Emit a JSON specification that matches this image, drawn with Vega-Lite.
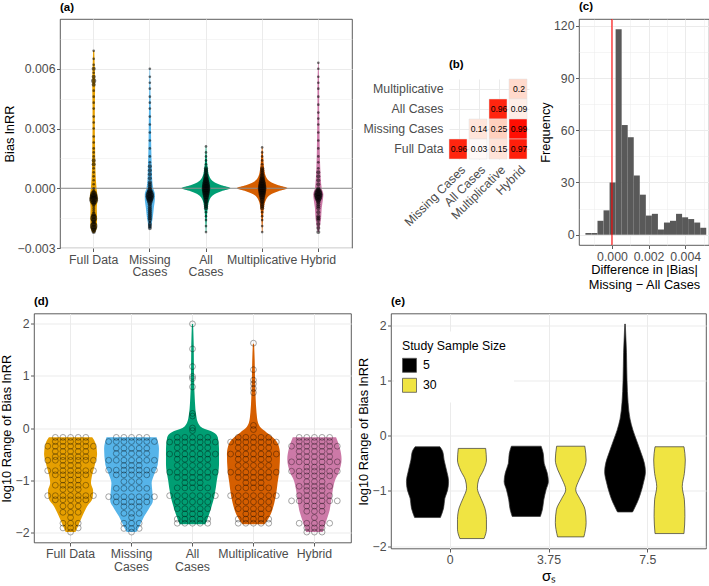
{
"$schema": "https://vega.github.io/schema/vega-lite/v6.json",
"background": "white",
"padding": 0,
"datasets": {
"a_vio": [
{"c":"FD","v":-0.00225,"w":0.02},{"c":"FD","v":-0.002,"w":0.11},{"c":"FD","v":-0.0015,"w":0.12},{"c":"FD","v":-0.001,"w":0.11},{"c":"FD","v":-0.0005,"w":0.14},{"c":"FD","v":0,"w":0.1},{"c":"FD","v":0.001,"w":0.06},{"c":"FD","v":0.002,"w":0.05},{"c":"FD","v":0.003,"w":0.04},{"c":"FD","v":0.004,"w":0.04},{"c":"FD","v":0.005,"w":0.05},{"c":"FD","v":0.0055,"w":0.05},{"c":"FD","v":0.006,"w":0.04},{"c":"FD","v":0.0069,"w":0.02},
{"c":"MC","v":-0.00203,"w":0.03},{"c":"MC","v":-0.0015,"w":0.1},{"c":"MC","v":-0.001,"w":0.14},{"c":"MC","v":-0.0005,"w":0.18},{"c":"MC","v":-0.0003,"w":0.18},{"c":"MC","v":0,"w":0.12},{"c":"MC","v":0.0005,"w":0.08},{"c":"MC","v":0.001,"w":0.07},{"c":"MC","v":0.002,"w":0.05},{"c":"MC","v":0.003,"w":0.04},{"c":"MC","v":0.004,"w":0.03},{"c":"MC","v":0.005,"w":0.02},{"c":"MC","v":0.006,"w":0.01},
{"c":"AC","v":-0.0022,"w":0.01},{"c":"AC","v":-0.0015,"w":0.03},{"c":"AC","v":-0.001,"w":0.06},{"c":"AC","v":-0.0006,"w":0.12},{"c":"AC","v":-0.0003,"w":0.3},{"c":"AC","v":-0.00015,"w":0.55},{"c":"AC","v":0,"w":0.87},{"c":"AC","v":0.00015,"w":0.55},{"c":"AC","v":0.0003,"w":0.3},{"c":"AC","v":0.0006,"w":0.12},{"c":"AC","v":0.001,"w":0.06},{"c":"AC","v":0.0015,"w":0.03},{"c":"AC","v":0.0021,"w":0.01},
{"c":"MU","v":-0.0022,"w":0.01},{"c":"MU","v":-0.0015,"w":0.03},{"c":"MU","v":-0.001,"w":0.06},{"c":"MU","v":-0.0006,"w":0.13},{"c":"MU","v":-0.0003,"w":0.32},{"c":"MU","v":-0.00015,"w":0.58},{"c":"MU","v":0,"w":0.9},{"c":"MU","v":0.00015,"w":0.58},{"c":"MU","v":0.0003,"w":0.32},{"c":"MU","v":0.0006,"w":0.13},{"c":"MU","v":0.001,"w":0.07},{"c":"MU","v":0.0015,"w":0.04},{"c":"MU","v":0.00205,"w":0.01},
{"c":"HY","v":-0.0022,"w":0.02},{"c":"HY","v":-0.0015,"w":0.1},{"c":"HY","v":-0.001,"w":0.12},{"c":"HY","v":-0.0005,"w":0.17},{"c":"HY","v":-0.0003,"w":0.18},{"c":"HY","v":0,"w":0.12},{"c":"HY","v":0.001,"w":0.07},{"c":"HY","v":0.002,"w":0.05},{"c":"HY","v":0.003,"w":0.04},{"c":"HY","v":0.004,"w":0.03},{"c":"HY","v":0.005,"w":0.03},{"c":"HY","v":0.0063,"w":0.01}
],
"a_pts": [
{"c":"FD","v":-0.0022,"n":2},{"c":"FD","v":-0.0021,"n":3},{"c":"FD","v":-0.002,"n":4},{"c":"FD","v":-0.0019,"n":6},{"c":"FD","v":-0.0018,"n":3},{"c":"FD","v":-0.0017,"n":2},{"c":"FD","v":-0.0016,"n":3},{"c":"FD","v":-0.0015,"n":5},{"c":"FD","v":-0.0014,"n":3},{"c":"FD","v":-0.0013,"n":2},{"c":"FD","v":-0.0012,"n":1},{"c":"FD","v":-0.0011,"n":1},{"c":"FD","v":-0.001,"n":1},{"c":"FD","v":-0.0009,"n":1},{"c":"FD","v":-0.0008,"n":2},{"c":"FD","v":-0.0007,"n":3},{"c":"FD","v":-0.0006,"n":8},{"c":"FD","v":-0.0005,"n":8},{"c":"FD","v":-0.0004,"n":6},{"c":"FD","v":-0.0003,"n":5},{"c":"FD","v":-0.0002,"n":2},{"c":"FD","v":-0.0001,"n":1},{"c":"FD","v":0,"n":1},{"c":"FD","v":0.0002,"n":1},{"c":"FD","v":0.0004,"n":1},{"c":"FD","v":0.0006,"n":1},{"c":"FD","v":0.0008,"n":1},{"c":"FD","v":0.001,"n":1},{"c":"FD","v":0.0012,"n":2},{"c":"FD","v":0.0014,"n":2},{"c":"FD","v":0.0016,"n":1},{"c":"FD","v":0.0018,"n":1},{"c":"FD","v":0.002,"n":1},{"c":"FD","v":0.0023,"n":1},{"c":"FD","v":0.0026,"n":1},{"c":"FD","v":0.003,"n":1},{"c":"FD","v":0.0033,"n":1},{"c":"FD","v":0.0036,"n":1},{"c":"FD","v":0.004,"n":1},{"c":"FD","v":0.0043,"n":1},{"c":"FD","v":0.0046,"n":1},{"c":"FD","v":0.0049,"n":1},{"c":"FD","v":0.0052,"n":2},{"c":"FD","v":0.0054,"n":3},{"c":"FD","v":0.0056,"n":2},{"c":"FD","v":0.0058,"n":1},{"c":"FD","v":0.006,"n":2},{"c":"FD","v":0.0062,"n":1},{"c":"FD","v":0.0065,"n":1},{"c":"FD","v":0.0069,"n":1},
{"c":"MC","v":-0.002,"n":2},{"c":"MC","v":-0.0019,"n":2},{"c":"MC","v":-0.0018,"n":2},{"c":"MC","v":-0.0017,"n":1},{"c":"MC","v":-0.0016,"n":2},{"c":"MC","v":-0.0015,"n":2},{"c":"MC","v":-0.0014,"n":2},{"c":"MC","v":-0.0013,"n":2},{"c":"MC","v":-0.0012,"n":2},{"c":"MC","v":-0.0011,"n":2},{"c":"MC","v":-0.001,"n":2},{"c":"MC","v":-0.0009,"n":2},{"c":"MC","v":-0.0008,"n":2},{"c":"MC","v":-0.0007,"n":3},{"c":"MC","v":-0.0006,"n":4},{"c":"MC","v":-0.0005,"n":6},{"c":"MC","v":-0.0004,"n":8},{"c":"MC","v":-0.0003,"n":7},{"c":"MC","v":-0.0002,"n":4},{"c":"MC","v":-0.0001,"n":3},{"c":"MC","v":0,"n":2},{"c":"MC","v":0.0001,"n":2},{"c":"MC","v":0.0002,"n":2},{"c":"MC","v":0.0003,"n":2},{"c":"MC","v":0.0005,"n":2},{"c":"MC","v":0.0007,"n":2},{"c":"MC","v":0.0009,"n":2},{"c":"MC","v":0.0011,"n":2},{"c":"MC","v":0.0013,"n":1},{"c":"MC","v":0.0016,"n":1},{"c":"MC","v":0.002,"n":1},{"c":"MC","v":0.0024,"n":1},{"c":"MC","v":0.0028,"n":1},{"c":"MC","v":0.0032,"n":1},{"c":"MC","v":0.0036,"n":1},{"c":"MC","v":0.004,"n":1},{"c":"MC","v":0.0043,"n":1},{"c":"MC","v":0.0046,"n":1},{"c":"MC","v":0.005,"n":1},{"c":"MC","v":0.0053,"n":1},{"c":"MC","v":0.0056,"n":1},{"c":"MC","v":0.006,"n":1},
{"c":"AC","v":-0.0022,"n":1},{"c":"AC","v":-0.0019,"n":1},{"c":"AC","v":-0.0016,"n":1},{"c":"AC","v":-0.0014,"n":1},{"c":"AC","v":-0.0012,"n":1},{"c":"AC","v":-0.001,"n":2},{"c":"AC","v":-0.0009,"n":2},{"c":"AC","v":-0.0008,"n":2},{"c":"AC","v":-0.0007,"n":2},{"c":"AC","v":-0.0006,"n":3},{"c":"AC","v":-0.0005,"n":3},{"c":"AC","v":-0.0004,"n":4},{"c":"AC","v":-0.0003,"n":5},{"c":"AC","v":-0.0002,"n":6},{"c":"AC","v":-0.0001,"n":7},{"c":"AC","v":0,"n":8},{"c":"AC","v":0.0001,"n":7},{"c":"AC","v":0.0002,"n":6},{"c":"AC","v":0.0003,"n":5},{"c":"AC","v":0.0004,"n":4},{"c":"AC","v":0.0005,"n":3},{"c":"AC","v":0.0006,"n":3},{"c":"AC","v":0.0007,"n":2},{"c":"AC","v":0.0008,"n":2},{"c":"AC","v":0.0009,"n":2},{"c":"AC","v":0.001,"n":2},{"c":"AC","v":0.0012,"n":1},{"c":"AC","v":0.0014,"n":1},{"c":"AC","v":0.0016,"n":1},{"c":"AC","v":0.0018,"n":1},{"c":"AC","v":0.0021,"n":1},
{"c":"MU","v":-0.0022,"n":1},{"c":"MU","v":-0.0019,"n":1},{"c":"MU","v":-0.0016,"n":1},{"c":"MU","v":-0.0014,"n":1},{"c":"MU","v":-0.0012,"n":1},{"c":"MU","v":-0.001,"n":2},{"c":"MU","v":-0.0009,"n":2},{"c":"MU","v":-0.0008,"n":2},{"c":"MU","v":-0.0007,"n":2},{"c":"MU","v":-0.0006,"n":3},{"c":"MU","v":-0.0005,"n":3},{"c":"MU","v":-0.0004,"n":4},{"c":"MU","v":-0.0003,"n":5},{"c":"MU","v":-0.0002,"n":6},{"c":"MU","v":-0.0001,"n":7},{"c":"MU","v":0,"n":8},{"c":"MU","v":0.0001,"n":7},{"c":"MU","v":0.0002,"n":6},{"c":"MU","v":0.0003,"n":5},{"c":"MU","v":0.0004,"n":4},{"c":"MU","v":0.0005,"n":3},{"c":"MU","v":0.0006,"n":3},{"c":"MU","v":0.0007,"n":2},{"c":"MU","v":0.0008,"n":2},{"c":"MU","v":0.0009,"n":2},{"c":"MU","v":0.001,"n":2},{"c":"MU","v":0.0012,"n":1},{"c":"MU","v":0.0014,"n":1},{"c":"MU","v":0.0016,"n":1},{"c":"MU","v":0.0018,"n":1},{"c":"MU","v":0.00205,"n":1},
{"c":"HY","v":-0.0022,"n":2},{"c":"HY","v":-0.002,"n":2},{"c":"HY","v":-0.0018,"n":2},{"c":"HY","v":-0.0016,"n":2},{"c":"HY","v":-0.0015,"n":2},{"c":"HY","v":-0.0014,"n":2},{"c":"HY","v":-0.0012,"n":2},{"c":"HY","v":-0.001,"n":2},{"c":"HY","v":-0.0009,"n":2},{"c":"HY","v":-0.0008,"n":2},{"c":"HY","v":-0.0007,"n":2},{"c":"HY","v":-0.0006,"n":3},{"c":"HY","v":-0.0005,"n":5},{"c":"HY","v":-0.0004,"n":7},{"c":"HY","v":-0.0003,"n":8},{"c":"HY","v":-0.0002,"n":6},{"c":"HY","v":-0.0001,"n":3},{"c":"HY","v":0,"n":2},{"c":"HY","v":0.0002,"n":2},{"c":"HY","v":0.0004,"n":2},{"c":"HY","v":0.0006,"n":2},{"c":"HY","v":0.0008,"n":2},{"c":"HY","v":0.001,"n":1},{"c":"HY","v":0.0013,"n":1},{"c":"HY","v":0.0016,"n":1},{"c":"HY","v":0.002,"n":1},{"c":"HY","v":0.0024,"n":1},{"c":"HY","v":0.0028,"n":1},{"c":"HY","v":0.0032,"n":1},{"c":"HY","v":0.0035,"n":1},{"c":"HY","v":0.0038,"n":1},{"c":"HY","v":0.0042,"n":1},{"c":"HY","v":0.0046,"n":1},{"c":"HY","v":0.005,"n":1},{"c":"HY","v":0.0053,"n":1},{"c":"HY","v":0.0056,"n":1},{"c":"HY","v":0.006,"n":1},{"c":"HY","v":0.0063,"n":1}
],
"b": [
{"x":"Hybrid","y":"Multiplicative","r":0.2},
{"x":"Multiplicative","y":"All Cases","r":0.96},
{"x":"Hybrid","y":"All Cases","r":0.09},
{"x":"All Cases","y":"Missing Cases","r":0.14},
{"x":"Multiplicative","y":"Missing Cases","r":0.25},
{"x":"Hybrid","y":"Missing Cases","r":0.99},
{"x":"Missing Cases","y":"Full Data","r":0.96},
{"x":"All Cases","y":"Full Data","r":0.03},
{"x":"Multiplicative","y":"Full Data","r":0.15},
{"x":"Hybrid","y":"Full Data","r":0.97}
],
"c": [
{"b0":-0.00145,"b1":-0.00112,"count":1},{"b0":-0.00112,"b1":-0.00079,"count":1},{"b0":-0.00079,"b1":-0.00046,"count":8},{"b0":-0.00046,"b1":-0.00013,"count":14},{"b0":-0.00013,"b1":0.0002,"count":30},{"b0":0.0002,"b1":0.00053,"count":118},{"b0":0.00053,"b1":0.00086,"count":63},{"b0":0.00086,"b1":0.00119,"count":56},{"b0":0.00119,"b1":0.00152,"count":34},{"b0":0.00152,"b1":0.00185,"count":23},{"b0":0.00185,"b1":0.00218,"count":11},{"b0":0.00218,"b1":0.00251,"count":12},{"b0":0.00251,"b1":0.00284,"count":3},{"b0":0.00284,"b1":0.00317,"count":7},{"b0":0.00317,"b1":0.0035,"count":8},{"b0":0.0035,"b1":0.00383,"count":12},{"b0":0.00383,"b1":0.00416,"count":10},{"b0":0.00416,"b1":0.00449,"count":9},{"b0":0.00449,"b1":0.00482,"count":7},{"b0":0.00482,"b1":0.00515,"count":4}
],
"d_vio": [
{"c":"FD","v":-2.0,"w":0.16},{"c":"FD","v":-1.85,"w":0.27},{"c":"FD","v":-1.7,"w":0.38},{"c":"FD","v":-1.5,"w":0.55},{"c":"FD","v":-1.35,"w":0.72},{"c":"FD","v":-1.2,"w":0.74},{"c":"FD","v":-1.06,"w":0.67},{"c":"FD","v":-0.9,"w":0.71},{"c":"FD","v":-0.7,"w":0.8},{"c":"FD","v":-0.5,"w":0.87},{"c":"FD","v":-0.3,"w":0.82},{"c":"FD","v":-0.18,"w":0.71},
{"c":"MC","v":-2.0,"w":0.16},{"c":"MC","v":-1.85,"w":0.29},{"c":"MC","v":-1.7,"w":0.41},{"c":"MC","v":-1.55,"w":0.57},{"c":"MC","v":-1.4,"w":0.7},{"c":"MC","v":-1.2,"w":0.68},{"c":"MC","v":-1.06,"w":0.66},{"c":"MC","v":-0.9,"w":0.74},{"c":"MC","v":-0.7,"w":0.86},{"c":"MC","v":-0.4,"w":0.9},{"c":"MC","v":-0.18,"w":0.82},
{"c":"AC","v":-1.85,"w":0.42},{"c":"AC","v":-1.7,"w":0.52},{"c":"AC","v":-1.5,"w":0.63},{"c":"AC","v":-1.3,"w":0.72},{"c":"AC","v":-1.0,"w":0.8},{"c":"AC","v":-0.7,"w":0.87},{"c":"AC","v":-0.4,"w":0.87},{"c":"AC","v":-0.18,"w":0.83},{"c":"AC","v":-0.08,"w":0.68},{"c":"AC","v":0.0,"w":0.33},{"c":"AC","v":0.1,"w":0.18},{"c":"AC","v":0.25,"w":0.12},{"c":"AC","v":0.5,"w":0.08},{"c":"AC","v":1.0,"w":0.05},{"c":"AC","v":1.6,"w":0.04},{"c":"AC","v":2.0,"w":0.02},
{"c":"MU","v":-1.85,"w":0.36},{"c":"MU","v":-1.71,"w":0.52},{"c":"MU","v":-1.45,"w":0.68},{"c":"MU","v":-1.2,"w":0.76},{"c":"MU","v":-1.06,"w":0.79},{"c":"MU","v":-0.8,"w":0.85},{"c":"MU","v":-0.5,"w":0.87},{"c":"MU","v":-0.3,"w":0.8},{"c":"MU","v":-0.18,"w":0.63},{"c":"MU","v":-0.08,"w":0.42},{"c":"MU","v":0.0,"w":0.25},{"c":"MU","v":0.1,"w":0.15},{"c":"MU","v":0.3,"w":0.1},{"c":"MU","v":0.6,"w":0.07},{"c":"MU","v":1.0,"w":0.05},{"c":"MU","v":1.3,"w":0.04},{"c":"MU","v":1.62,"w":0.02},
{"c":"HY","v":-2.0,"w":0.27},{"c":"HY","v":-1.8,"w":0.38},{"c":"HY","v":-1.6,"w":0.49},{"c":"HY","v":-1.4,"w":0.55},{"c":"HY","v":-1.2,"w":0.6},{"c":"HY","v":-1.0,"w":0.68},{"c":"HY","v":-0.85,"w":0.8},{"c":"HY","v":-0.6,"w":0.89},{"c":"HY","v":-0.4,"w":0.84},{"c":"HY","v":-0.18,"w":0.71}
],
"d_pts": [
{"c":"FD","v":-0.18,"r":2},{"c":"FD","v":-0.18,"r":3},{"c":"FD","v":-0.18,"r":4},{"c":"FD","v":-0.18,"r":5},{"c":"FD","v":-0.18,"r":6},
{"c":"FD","v":-0.26,"r":2},{"c":"FD","v":-0.26,"r":3},{"c":"FD","v":-0.26,"r":4},{"c":"FD","v":-0.26,"r":5},{"c":"FD","v":-0.26,"r":6},
{"c":"FD","v":-0.35,"r":1},{"c":"FD","v":-0.35,"r":2},{"c":"FD","v":-0.35,"r":3},{"c":"FD","v":-0.35,"r":4},{"c":"FD","v":-0.35,"r":5},{"c":"FD","v":-0.35,"r":6},{"c":"FD","v":-0.35,"r":7},
{"c":"FD","v":-0.45,"r":2},{"c":"FD","v":-0.45,"r":3},{"c":"FD","v":-0.45,"r":4},{"c":"FD","v":-0.45,"r":5},{"c":"FD","v":-0.45,"r":6},
{"c":"FD","v":-0.55,"r":2},{"c":"FD","v":-0.55,"r":3},{"c":"FD","v":-0.55,"r":4},{"c":"FD","v":-0.55,"r":5},{"c":"FD","v":-0.55,"r":6},
{"c":"FD","v":-0.62,"r":1},{"c":"FD","v":-0.62,"r":2},{"c":"FD","v":-0.62,"r":3},{"c":"FD","v":-0.62,"r":4},{"c":"FD","v":-0.62,"r":5},{"c":"FD","v":-0.62,"r":6},{"c":"FD","v":-0.62,"r":7},
{"c":"FD","v":-0.72,"r":3},{"c":"FD","v":-0.72,"r":4},{"c":"FD","v":-0.72,"r":5},
{"c":"FD","v":-0.82,"r":1},{"c":"FD","v":-0.82,"r":2},{"c":"FD","v":-0.82,"r":3},{"c":"FD","v":-0.82,"r":4},{"c":"FD","v":-0.82,"r":5},{"c":"FD","v":-0.82,"r":6},{"c":"FD","v":-0.82,"r":7},
{"c":"FD","v":-0.9,"r":2},{"c":"FD","v":-0.9,"r":3},{"c":"FD","v":-0.9,"r":4},{"c":"FD","v":-0.9,"r":5},{"c":"FD","v":-0.9,"r":6},
{"c":"FD","v":-1.0,"r":3},{"c":"FD","v":-1.0,"r":4},{"c":"FD","v":-1.0,"r":5},
{"c":"FD","v":-1.1,"r":2},{"c":"FD","v":-1.1,"r":3},{"c":"FD","v":-1.1,"r":4},{"c":"FD","v":-1.1,"r":5},{"c":"FD","v":-1.1,"r":6},
{"c":"FD","v":-1.18,"r":3},{"c":"FD","v":-1.18,"r":4},{"c":"FD","v":-1.18,"r":5},
{"c":"FD","v":-1.3,"r":1},{"c":"FD","v":-1.3,"r":2},{"c":"FD","v":-1.3,"r":3},{"c":"FD","v":-1.3,"r":4},{"c":"FD","v":-1.3,"r":5},{"c":"FD","v":-1.3,"r":6},{"c":"FD","v":-1.3,"r":7},
{"c":"FD","v":-1.38,"r":2},{"c":"FD","v":-1.38,"r":3},{"c":"FD","v":-1.38,"r":4},{"c":"FD","v":-1.38,"r":5},{"c":"FD","v":-1.38,"r":6},
{"c":"FD","v":-1.5,"r":3},{"c":"FD","v":-1.5,"r":4},{"c":"FD","v":-1.5,"r":5},
{"c":"FD","v":-1.62,"r":3},{"c":"FD","v":-1.62,"r":4},{"c":"FD","v":-1.62,"r":5},
{"c":"FD","v":-1.72,"r":4},
{"c":"FD","v":-1.83,"r":3},{"c":"FD","v":-1.83,"r":4},{"c":"FD","v":-1.83,"r":5},
{"c":"FD","v":-1.92,"r":3},{"c":"FD","v":-1.92,"r":4},{"c":"FD","v":-1.92,"r":5},
{"c":"FD","v":-2.0,"r":4},
{"c":"MC","v":-0.18,"r":2},{"c":"MC","v":-0.18,"r":3},{"c":"MC","v":-0.18,"r":4},{"c":"MC","v":-0.18,"r":5},{"c":"MC","v":-0.18,"r":6},
{"c":"MC","v":-0.26,"r":1},{"c":"MC","v":-0.26,"r":2},{"c":"MC","v":-0.26,"r":3},{"c":"MC","v":-0.26,"r":4},{"c":"MC","v":-0.26,"r":5},{"c":"MC","v":-0.26,"r":6},{"c":"MC","v":-0.26,"r":7},
{"c":"MC","v":-0.39,"r":2},{"c":"MC","v":-0.39,"r":3},{"c":"MC","v":-0.39,"r":4},{"c":"MC","v":-0.39,"r":5},{"c":"MC","v":-0.39,"r":6},
{"c":"MC","v":-0.49,"r":2},{"c":"MC","v":-0.49,"r":3},{"c":"MC","v":-0.49,"r":4},{"c":"MC","v":-0.49,"r":5},{"c":"MC","v":-0.49,"r":6},
{"c":"MC","v":-0.62,"r":1},{"c":"MC","v":-0.62,"r":2},{"c":"MC","v":-0.62,"r":3},{"c":"MC","v":-0.62,"r":4},{"c":"MC","v":-0.62,"r":5},{"c":"MC","v":-0.62,"r":6},{"c":"MC","v":-0.62,"r":7},
{"c":"MC","v":-0.72,"r":3},{"c":"MC","v":-0.72,"r":4},{"c":"MC","v":-0.72,"r":5},
{"c":"MC","v":-0.81,"r":1},{"c":"MC","v":-0.81,"r":2},{"c":"MC","v":-0.81,"r":3},{"c":"MC","v":-0.81,"r":4},{"c":"MC","v":-0.81,"r":5},{"c":"MC","v":-0.81,"r":6},{"c":"MC","v":-0.81,"r":7},
{"c":"MC","v":-0.9,"r":2},{"c":"MC","v":-0.9,"r":3},{"c":"MC","v":-0.9,"r":4},{"c":"MC","v":-0.9,"r":5},{"c":"MC","v":-0.9,"r":6},
{"c":"MC","v":-1.03,"r":3},{"c":"MC","v":-1.03,"r":4},{"c":"MC","v":-1.03,"r":5},
{"c":"MC","v":-1.16,"r":2},{"c":"MC","v":-1.16,"r":3},{"c":"MC","v":-1.16,"r":4},{"c":"MC","v":-1.16,"r":5},{"c":"MC","v":-1.16,"r":6},
{"c":"MC","v":-1.32,"r":1},{"c":"MC","v":-1.32,"r":2},{"c":"MC","v":-1.32,"r":3},{"c":"MC","v":-1.32,"r":4},{"c":"MC","v":-1.32,"r":5},{"c":"MC","v":-1.32,"r":6},{"c":"MC","v":-1.32,"r":7},
{"c":"MC","v":-1.42,"r":2},{"c":"MC","v":-1.42,"r":3},{"c":"MC","v":-1.42,"r":4},{"c":"MC","v":-1.42,"r":5},{"c":"MC","v":-1.42,"r":6},
{"c":"MC","v":-1.51,"r":3},{"c":"MC","v":-1.51,"r":4},{"c":"MC","v":-1.51,"r":5},
{"c":"MC","v":-1.64,"r":3},{"c":"MC","v":-1.64,"r":4},{"c":"MC","v":-1.64,"r":5},
{"c":"MC","v":-1.72,"r":4},
{"c":"MC","v":-1.83,"r":3},{"c":"MC","v":-1.83,"r":4},{"c":"MC","v":-1.83,"r":5},
{"c":"MC","v":-1.93,"r":3},{"c":"MC","v":-1.93,"r":4},{"c":"MC","v":-1.93,"r":5},
{"c":"MC","v":-2.0,"r":4},
{"c":"AC","v":2.0,"r":4},{"c":"AC","v":1.52,"r":4},{"c":"AC","v":1.18,"r":4},{"c":"AC","v":0.99,"r":4},{"c":"AC","v":0.95,"r":4},{"c":"AC","v":0.79,"r":4},{"c":"AC","v":0.28,"r":4},{"c":"AC","v":0.23,"r":4},{"c":"AC","v":0.0,"r":4},{"c":"AC","v":-0.05,"r":4},
{"c":"AC","v":-0.18,"r":2},{"c":"AC","v":-0.18,"r":3},{"c":"AC","v":-0.18,"r":4},{"c":"AC","v":-0.18,"r":5},{"c":"AC","v":-0.18,"r":6},
{"c":"AC","v":-0.27,"r":1},{"c":"AC","v":-0.27,"r":2},{"c":"AC","v":-0.27,"r":3},{"c":"AC","v":-0.27,"r":4},{"c":"AC","v":-0.27,"r":5},{"c":"AC","v":-0.27,"r":6},{"c":"AC","v":-0.27,"r":7},
{"c":"AC","v":-0.38,"r":2},{"c":"AC","v":-0.38,"r":3},{"c":"AC","v":-0.38,"r":4},{"c":"AC","v":-0.38,"r":5},{"c":"AC","v":-0.38,"r":6},
{"c":"AC","v":-0.5,"r":1},{"c":"AC","v":-0.5,"r":2},{"c":"AC","v":-0.5,"r":3},{"c":"AC","v":-0.5,"r":4},{"c":"AC","v":-0.5,"r":5},{"c":"AC","v":-0.5,"r":6},{"c":"AC","v":-0.5,"r":7},
{"c":"AC","v":-0.6,"r":2},{"c":"AC","v":-0.6,"r":3},{"c":"AC","v":-0.6,"r":4},{"c":"AC","v":-0.6,"r":5},{"c":"AC","v":-0.6,"r":6},
{"c":"AC","v":-0.72,"r":2},{"c":"AC","v":-0.72,"r":3},{"c":"AC","v":-0.72,"r":4},{"c":"AC","v":-0.72,"r":5},{"c":"AC","v":-0.72,"r":6},
{"c":"AC","v":-0.85,"r":1},{"c":"AC","v":-0.85,"r":2},{"c":"AC","v":-0.85,"r":3},{"c":"AC","v":-0.85,"r":4},{"c":"AC","v":-0.85,"r":5},{"c":"AC","v":-0.85,"r":6},{"c":"AC","v":-0.85,"r":7},
{"c":"AC","v":-0.95,"r":2},{"c":"AC","v":-0.95,"r":3},{"c":"AC","v":-0.95,"r":4},{"c":"AC","v":-0.95,"r":5},{"c":"AC","v":-0.95,"r":6},
{"c":"AC","v":-1.05,"r":3},{"c":"AC","v":-1.05,"r":4},{"c":"AC","v":-1.05,"r":5},
{"c":"AC","v":-1.15,"r":2},{"c":"AC","v":-1.15,"r":3},{"c":"AC","v":-1.15,"r":4},{"c":"AC","v":-1.15,"r":5},{"c":"AC","v":-1.15,"r":6},
{"c":"AC","v":-1.3,"r":1},{"c":"AC","v":-1.3,"r":2},{"c":"AC","v":-1.3,"r":3},{"c":"AC","v":-1.3,"r":4},{"c":"AC","v":-1.3,"r":5},{"c":"AC","v":-1.3,"r":6},{"c":"AC","v":-1.3,"r":7},
{"c":"AC","v":-1.42,"r":2},{"c":"AC","v":-1.42,"r":3},{"c":"AC","v":-1.42,"r":4},{"c":"AC","v":-1.42,"r":5},{"c":"AC","v":-1.42,"r":6},
{"c":"AC","v":-1.55,"r":2},{"c":"AC","v":-1.55,"r":3},{"c":"AC","v":-1.55,"r":4},{"c":"AC","v":-1.55,"r":5},{"c":"AC","v":-1.55,"r":6},
{"c":"AC","v":-1.65,"r":3},{"c":"AC","v":-1.65,"r":4},{"c":"AC","v":-1.65,"r":5},
{"c":"AC","v":-1.75,"r":2},{"c":"AC","v":-1.75,"r":3},{"c":"AC","v":-1.75,"r":4},{"c":"AC","v":-1.75,"r":5},{"c":"AC","v":-1.75,"r":6},
{"c":"AC","v":-1.83,"r":2},{"c":"AC","v":-1.83,"r":3},{"c":"AC","v":-1.83,"r":4},{"c":"AC","v":-1.83,"r":5},{"c":"AC","v":-1.83,"r":6},
{"c":"MU","v":1.63,"r":4},{"c":"MU","v":1.12,"r":4},{"c":"MU","v":0.92,"r":4},{"c":"MU","v":0.85,"r":4},{"c":"MU","v":0.76,"r":4},{"c":"MU","v":0.68,"r":4},{"c":"MU","v":0.05,"r":4},{"c":"MU","v":-0.03,"r":4},
{"c":"MU","v":-0.18,"r":2},{"c":"MU","v":-0.18,"r":3},{"c":"MU","v":-0.18,"r":4},{"c":"MU","v":-0.18,"r":5},{"c":"MU","v":-0.18,"r":6},
{"c":"MU","v":-0.27,"r":1},{"c":"MU","v":-0.27,"r":2},{"c":"MU","v":-0.27,"r":3},{"c":"MU","v":-0.27,"r":4},{"c":"MU","v":-0.27,"r":5},{"c":"MU","v":-0.27,"r":6},{"c":"MU","v":-0.27,"r":7},
{"c":"MU","v":-0.38,"r":2},{"c":"MU","v":-0.38,"r":3},{"c":"MU","v":-0.38,"r":4},{"c":"MU","v":-0.38,"r":5},{"c":"MU","v":-0.38,"r":6},
{"c":"MU","v":-0.5,"r":1},{"c":"MU","v":-0.5,"r":2},{"c":"MU","v":-0.5,"r":3},{"c":"MU","v":-0.5,"r":4},{"c":"MU","v":-0.5,"r":5},{"c":"MU","v":-0.5,"r":6},{"c":"MU","v":-0.5,"r":7},
{"c":"MU","v":-0.6,"r":2},{"c":"MU","v":-0.6,"r":3},{"c":"MU","v":-0.6,"r":4},{"c":"MU","v":-0.6,"r":5},{"c":"MU","v":-0.6,"r":6},
{"c":"MU","v":-0.72,"r":2},{"c":"MU","v":-0.72,"r":3},{"c":"MU","v":-0.72,"r":4},{"c":"MU","v":-0.72,"r":5},{"c":"MU","v":-0.72,"r":6},
{"c":"MU","v":-0.85,"r":1},{"c":"MU","v":-0.85,"r":2},{"c":"MU","v":-0.85,"r":3},{"c":"MU","v":-0.85,"r":4},{"c":"MU","v":-0.85,"r":5},{"c":"MU","v":-0.85,"r":6},{"c":"MU","v":-0.85,"r":7},
{"c":"MU","v":-0.95,"r":2},{"c":"MU","v":-0.95,"r":3},{"c":"MU","v":-0.95,"r":4},{"c":"MU","v":-0.95,"r":5},{"c":"MU","v":-0.95,"r":6},
{"c":"MU","v":-1.05,"r":3},{"c":"MU","v":-1.05,"r":4},{"c":"MU","v":-1.05,"r":5},
{"c":"MU","v":-1.15,"r":2},{"c":"MU","v":-1.15,"r":3},{"c":"MU","v":-1.15,"r":4},{"c":"MU","v":-1.15,"r":5},{"c":"MU","v":-1.15,"r":6},
{"c":"MU","v":-1.3,"r":1},{"c":"MU","v":-1.3,"r":2},{"c":"MU","v":-1.3,"r":3},{"c":"MU","v":-1.3,"r":4},{"c":"MU","v":-1.3,"r":5},{"c":"MU","v":-1.3,"r":6},{"c":"MU","v":-1.3,"r":7},
{"c":"MU","v":-1.42,"r":2},{"c":"MU","v":-1.42,"r":3},{"c":"MU","v":-1.42,"r":4},{"c":"MU","v":-1.42,"r":5},{"c":"MU","v":-1.42,"r":6},
{"c":"MU","v":-1.55,"r":2},{"c":"MU","v":-1.55,"r":3},{"c":"MU","v":-1.55,"r":4},{"c":"MU","v":-1.55,"r":5},{"c":"MU","v":-1.55,"r":6},
{"c":"MU","v":-1.65,"r":3},{"c":"MU","v":-1.65,"r":4},{"c":"MU","v":-1.65,"r":5},
{"c":"MU","v":-1.75,"r":2},{"c":"MU","v":-1.75,"r":3},{"c":"MU","v":-1.75,"r":4},{"c":"MU","v":-1.75,"r":5},{"c":"MU","v":-1.75,"r":6},
{"c":"MU","v":-1.83,"r":2},{"c":"MU","v":-1.83,"r":3},{"c":"MU","v":-1.83,"r":4},{"c":"MU","v":-1.83,"r":5},{"c":"MU","v":-1.83,"r":6},
{"c":"HY","v":-0.18,"r":2},{"c":"HY","v":-0.18,"r":3},{"c":"HY","v":-0.18,"r":4},{"c":"HY","v":-0.18,"r":5},{"c":"HY","v":-0.18,"r":6},
{"c":"HY","v":-0.26,"r":2},{"c":"HY","v":-0.26,"r":3},{"c":"HY","v":-0.26,"r":4},{"c":"HY","v":-0.26,"r":5},{"c":"HY","v":-0.26,"r":6},
{"c":"HY","v":-0.35,"r":1},{"c":"HY","v":-0.35,"r":2},{"c":"HY","v":-0.35,"r":3},{"c":"HY","v":-0.35,"r":4},{"c":"HY","v":-0.35,"r":5},{"c":"HY","v":-0.35,"r":6},{"c":"HY","v":-0.35,"r":7},
{"c":"HY","v":-0.45,"r":2},{"c":"HY","v":-0.45,"r":3},{"c":"HY","v":-0.45,"r":4},{"c":"HY","v":-0.45,"r":5},{"c":"HY","v":-0.45,"r":6},
{"c":"HY","v":-0.55,"r":2},{"c":"HY","v":-0.55,"r":3},{"c":"HY","v":-0.55,"r":4},{"c":"HY","v":-0.55,"r":5},{"c":"HY","v":-0.55,"r":6},
{"c":"HY","v":-0.65,"r":1},{"c":"HY","v":-0.65,"r":2},{"c":"HY","v":-0.65,"r":3},{"c":"HY","v":-0.65,"r":4},{"c":"HY","v":-0.65,"r":5},{"c":"HY","v":-0.65,"r":6},{"c":"HY","v":-0.65,"r":7},
{"c":"HY","v":-0.75,"r":3},{"c":"HY","v":-0.75,"r":4},{"c":"HY","v":-0.75,"r":5},
{"c":"HY","v":-0.83,"r":1},{"c":"HY","v":-0.83,"r":2},{"c":"HY","v":-0.83,"r":3},{"c":"HY","v":-0.83,"r":4},{"c":"HY","v":-0.83,"r":5},{"c":"HY","v":-0.83,"r":6},{"c":"HY","v":-0.83,"r":7},
{"c":"HY","v":-0.92,"r":2},{"c":"HY","v":-0.92,"r":3},{"c":"HY","v":-0.92,"r":4},{"c":"HY","v":-0.92,"r":5},{"c":"HY","v":-0.92,"r":6},
{"c":"HY","v":-1.03,"r":3},{"c":"HY","v":-1.03,"r":4},{"c":"HY","v":-1.03,"r":5},
{"c":"HY","v":-1.12,"r":2},{"c":"HY","v":-1.12,"r":3},{"c":"HY","v":-1.12,"r":4},{"c":"HY","v":-1.12,"r":5},{"c":"HY","v":-1.12,"r":6},
{"c":"HY","v":-1.2,"r":3},{"c":"HY","v":-1.2,"r":4},{"c":"HY","v":-1.2,"r":5},
{"c":"HY","v":-1.3,"r":2},{"c":"HY","v":-1.3,"r":3},{"c":"HY","v":-1.3,"r":4},{"c":"HY","v":-1.3,"r":5},{"c":"HY","v":-1.3,"r":6},
{"c":"HY","v":-1.4,"r":1},{"c":"HY","v":-1.4,"r":2},{"c":"HY","v":-1.4,"r":3},{"c":"HY","v":-1.4,"r":4},{"c":"HY","v":-1.4,"r":5},{"c":"HY","v":-1.4,"r":6},{"c":"HY","v":-1.4,"r":7},
{"c":"HY","v":-1.5,"r":3},{"c":"HY","v":-1.5,"r":4},{"c":"HY","v":-1.5,"r":5},
{"c":"HY","v":-1.6,"r":3},{"c":"HY","v":-1.6,"r":4},{"c":"HY","v":-1.6,"r":5},
{"c":"HY","v":-1.72,"r":4},
{"c":"HY","v":-1.83,"r":2},{"c":"HY","v":-1.83,"r":3},{"c":"HY","v":-1.83,"r":4},{"c":"HY","v":-1.83,"r":5},{"c":"HY","v":-1.83,"r":6},
{"c":"HY","v":-1.92,"r":3},{"c":"HY","v":-1.92,"r":4},{"c":"HY","v":-1.92,"r":5},
{"c":"HY","v":-2.0,"r":3},{"c":"HY","v":-2.0,"r":4},{"c":"HY","v":-2.0,"r":5}
],
"e_vio": [
{"s":0,"n":"5","v":-1.48,"w":0.98},{"s":0,"n":"5","v":-1.31,"w":1.22},{"s":0,"n":"5","v":-1.13,"w":1.32},{"s":0,"n":"5","v":-0.98,"w":1.53},{"s":0,"n":"5","v":-0.83,"w":1.6},{"s":0,"n":"5","v":-0.62,"w":1.44},{"s":0,"n":"5","v":-0.44,"w":1.26},{"s":0,"n":"5","v":-0.29,"w":1.16},{"s":0,"n":"5","v":-0.2,"w":0.94},
{"s":0,"n":"30","v":-1.86,"w":0.92},{"s":0,"n":"30","v":-1.69,"w":1.1},{"s":0,"n":"30","v":-1.52,"w":1.1},{"s":0,"n":"30","v":-1.31,"w":0.98},{"s":0,"n":"30","v":-1.13,"w":0.67},{"s":0,"n":"30","v":-0.95,"w":0.41},{"s":0,"n":"30","v":-0.8,"w":0.5},{"s":0,"n":"30","v":-0.62,"w":0.88},{"s":0,"n":"30","v":-0.44,"w":1.1},{"s":0,"n":"30","v":-0.23,"w":1.04},
{"s":3.75,"n":"5","v":-1.46,"w":1.07},{"s":3.75,"n":"5","v":-1.34,"w":1.22},{"s":3.75,"n":"5","v":-1.16,"w":1.33},{"s":3.75,"n":"5","v":-0.98,"w":1.5},{"s":3.75,"n":"5","v":-0.83,"w":1.68},{"s":3.75,"n":"5","v":-0.68,"w":1.6},{"s":3.75,"n":"5","v":-0.5,"w":1.36},{"s":3.75,"n":"5","v":-0.32,"w":1.29},{"s":3.75,"n":"5","v":-0.19,"w":1.13},
{"s":3.75,"n":"30","v":-1.83,"w":1.0},{"s":3.75,"n":"30","v":-1.57,"w":1.17},{"s":3.75,"n":"30","v":-1.34,"w":1.09},{"s":3.75,"n":"30","v":-1.13,"w":0.67},{"s":3.75,"n":"30","v":-0.98,"w":0.38},{"s":3.75,"n":"30","v":-0.8,"w":0.63},{"s":3.75,"n":"30","v":-0.62,"w":0.98},{"s":3.75,"n":"30","v":-0.44,"w":1.17},{"s":3.75,"n":"30","v":-0.19,"w":1.07},
{"s":7.5,"n":"5","v":-1.38,"w":0.57},{"s":7.5,"n":"5","v":-1.33,"w":0.68},{"s":7.5,"n":"5","v":-1.2,"w":0.94},{"s":7.5,"n":"5","v":-1.05,"w":1.17},{"s":7.5,"n":"5","v":-0.85,"w":1.4},{"s":7.5,"n":"5","v":-0.65,"w":1.55},{"s":7.5,"n":"5","v":-0.5,"w":1.47},{"s":7.5,"n":"5","v":-0.3,"w":1.2},{"s":7.5,"n":"5","v":-0.1,"w":0.9},{"s":7.5,"n":"5","v":0.1,"w":0.6},{"s":7.5,"n":"5","v":0.3,"w":0.38},{"s":7.5,"n":"5","v":0.6,"w":0.23},{"s":7.5,"n":"5","v":1.0,"w":0.15},{"s":7.5,"n":"5","v":1.5,"w":0.11},{"s":7.5,"n":"5","v":2.02,"w":0.02},
{"s":7.5,"n":"30","v":-1.77,"w":1.1},{"s":7.5,"n":"30","v":-1.46,"w":1.17},{"s":7.5,"n":"30","v":-1.16,"w":1.13},{"s":7.5,"n":"30","v":-0.92,"w":0.97},{"s":7.5,"n":"30","v":-0.68,"w":1.13},{"s":7.5,"n":"30","v":-0.44,"w":1.2},{"s":7.5,"n":"30","v":-0.2,"w":1.1}
]
},
"resolve": {"scale": {"color": "independent"}, "legend": {"color": "independent"}},
"vconcat": [
{
"bounds": "flush",
"spacing": 0,
"hconcat": [
{"width": 26, "height": 1, "data": {"values": []}, "mark": "point", "view": {"stroke": null}},
{
"spacing": 10,
"hconcat": [
{
"width": 292, "height": 229,
"title": {"text": "(a)"},
"encoding": {"y": {"field": "v", "type": "quantitative", "scale": {"domain": [-0.003, 0.0085], "nice": false, "zero": false},
  "axis": {"title": "Bias lnRR", "values": [-0.003,-0.0015,0,0.0015,0.003,0.0045,0.006,0.0075], "format": ".3f",
    "labelExpr": "indexof([-0.003,0,0.003,0.006], datum.value) >= 0 ? datum.label : ''",
    "gridWidth": {"condition": {"test": "indexof([-0.003,0,0.003,0.006], datum.value) >= 0", "value": 1}, "value": 0.5},
    "tickOpacity": {"condition": {"test": "indexof([-0.003,0,0.003,0.006], datum.value) >= 0", "value": 1}, "value": 0}}}},
"layer": [
{"data": {"name": "a_vio"}, "transform": [{"filter": "datum.c === 'FD'"}], "mark": {"type": "area", "orient": "horizontal", "interpolate": "monotone", "fill": "#E69F00"}, "encoding": {"x": {"field": "w", "type": "quantitative", "stack": "center", "scale": {"domain": [-0.53, 4.67], "nice": false, "zero": false}, "axis": null}}},
{"data": {"name": "a_vio"}, "transform": [{"filter": "datum.c === 'MC'"}], "mark": {"type": "area", "orient": "horizontal", "interpolate": "monotone", "fill": "#56B4E9"}, "encoding": {"x": {"field": "w", "type": "quantitative", "stack": "center", "scale": {"domain": [-1.51, 3.69], "nice": false, "zero": false}, "axis": null}}},
{"data": {"name": "a_vio"}, "transform": [{"filter": "datum.c === 'AC'"}], "mark": {"type": "area", "orient": "horizontal", "interpolate": "monotone", "fill": "#009E73"}, "encoding": {"x": {"field": "w", "type": "quantitative", "stack": "center", "scale": {"domain": [-2.165, 3.035], "nice": false, "zero": false}, "axis": null}}},
{"data": {"name": "a_vio"}, "transform": [{"filter": "datum.c === 'MU'"}], "mark": {"type": "area", "orient": "horizontal", "interpolate": "monotone", "fill": "#D55E00"}, "encoding": {"x": {"field": "w", "type": "quantitative", "stack": "center", "scale": {"domain": [-3.15, 2.05], "nice": false, "zero": false}, "axis": null}}},
{"data": {"name": "a_vio"}, "transform": [{"filter": "datum.c === 'HY'"}], "mark": {"type": "area", "orient": "horizontal", "interpolate": "monotone", "fill": "#CC79A7"}, "encoding": {"x": {"field": "w", "type": "quantitative", "stack": "center", "scale": {"domain": [-4.51, 0.69], "nice": false, "zero": false}, "axis": null}}},
{"data": {"values": [{"v": 0}]}, "mark": {"type": "rule", "color": "#8C8C8C", "strokeWidth": 1}, "encoding": {}},
{"data": {"name": "a_pts"}, "mark": {"type": "circle", "color": "#000000", "opacity": 0.55},
 "encoding": {
  "x": {"field": "c", "type": "nominal", "scale": {"type": "band", "domain": ["FD","MC","AC","MU","HY"], "paddingInner": 0, "paddingOuter": 0.1},
    "axis": {"title": null, "labelExpr": "datum.value === 'FD' ? 'Full Data' : datum.value === 'MC' ? ['Missing','Cases'] : datum.value === 'AC' ? ['All','Cases'] : datum.value === 'MU' ? 'Multiplicative' : 'Hybrid'", "bandPosition": 0.5, "grid": true, "labelAngle": 0, "labelBaseline": "top", "labelLineHeight": 12.5, "labelLimit": 200}},
  "size": {"field": "n", "type": "quantitative", "scale": {"domain": [1, 8], "range": [7, 75], "zero": false}, "legend": null}}}
],
"resolve": {"scale": {"x": "independent"}}
},
{
"bounds": "flush",
"spacing": 0,
"vconcat": [
{"width": 80, "height": 60, "data": {"values": []}, "mark": "point", "view": {"stroke": null}},
{
"width": 80, "height": 80,
"title": {"text": "(b)", "offset": 8.7},
"view": {"stroke": null},
"data": {"name": "b"},
"encoding": {
 "x": {"field": "x", "type": "nominal", "scale": {"domain": ["Missing Cases","All Cases","Multiplicative","Hybrid"]}, "axis": {"title": null, "zindex": 0, "labelAngle": -45, "labelAlign": "right", "labelBaseline": "top", "ticks": false, "grid": true, "bandPosition": 0.5, "labelPadding": 4, "labelLimit": 200}},
 "y": {"field": "y", "type": "nominal", "scale": {"domain": ["Multiplicative","All Cases","Missing Cases","Full Data"]}, "axis": {"title": null, "zindex": 0, "ticks": false, "grid": true, "bandPosition": 0.5, "labelPadding": 6, "labelLimit": 200}}
},
"layer": [
 {"mark": {"type": "rect", "stroke": "#E3E3E3", "strokeWidth": 0.5}, "encoding": {"fill": {"field": "r", "type": "quantitative", "scale": {"domain": [0, 1], "range": ["#FFFFFF", "#FF0000"], "interpolate": "lab"}, "legend": null}}},
 {"mark": {"type": "text", "fontSize": 8.6, "color": "#000000", "font": "Liberation Sans"}, "encoding": {"text": {"field": "r", "type": "nominal"}}}
]
}
]
},
{
"width": 130, "height": 226,
"title": {"text": "(c)"},
"encoding": {
  "x": {"field": "b0", "type": "quantitative", "scale": {"domain": [-0.0018, 0.0053], "nice": false, "zero": false},
    "axis": {"title": ["Difference in |Bias|", "Missing \u2212 All Cases"], "values": [-0.001,0,0.001,0.002,0.003,0.004,0.005], "format": ".3f",
      "labelExpr": "indexof([0,0.002,0.004], datum.value) >= 0 ? datum.label : ''",
      "gridWidth": {"condition": {"test": "indexof([0,0.002,0.004], datum.value) >= 0", "value": 1}, "value": 0.5},
      "tickOpacity": {"condition": {"test": "indexof([0,0.002,0.004], datum.value) >= 0", "value": 1}, "value": 0},
      "titlePadding": 1.5, "titleLineHeight": 14.3}}
},
"layer": [
{"data": {"name": "c"}, "mark": {"type": "bar", "fill": "#595959"},
 "encoding": {
  "x2": {"field": "b1"},
  "y": {"field": "count", "type": "quantitative", "scale": {"domain": [-5.9, 123.9], "nice": false, "zero": false},
    "axis": {"title": "Frequency", "values": [0,15,30,45,60,75,90,105,120], "format": "d",
      "labelExpr": "datum.value % 30 === 0 ? datum.label : ''",
      "gridWidth": {"condition": {"test": "datum.value % 30 === 0", "value": 1}, "value": 0.5},
      "tickOpacity": {"condition": {"test": "datum.value % 30 === 0", "value": 1}, "value": 0}}},
  "y2": {"datum": 0}}},
{"data": {"values": [{"b0": 0}]}, "mark": {"type": "rule", "color": "#FF0000", "strokeWidth": 1.1}, "encoding": {}}
]
}
]
}
]
},
{
"spacing": 5,
"resolve": {"scale": {"color": "independent"}, "legend": {"color": "independent"}},
"hconcat": [
{
"width": 317, "height": 229,
"title": {"text": "(d)"},
"encoding": {"y": {"field": "v", "type": "quantitative", "scale": {"domain": [-2.2, 2.2], "nice": false, "zero": false},
  "axis": {"title": "log10 Range of Bias lnRR", "values": [-2,-1.5,-1,-0.5,0,0.5,1,1.5,2], "format": "d",
    "labelExpr": "datum.value % 1 === 0 ? datum.label : ''",
    "gridWidth": {"condition": {"test": "datum.value % 1 === 0", "value": 1}, "value": 0.5},
    "tickOpacity": {"condition": {"test": "datum.value % 1 === 0", "value": 1}, "value": 0}}}},
"layer": [
{"data": {"name": "d_vio"}, "transform": [{"filter": "datum.c === 'FD'"}], "mark": {"type": "area", "orient": "horizontal", "interpolate": "monotone", "fill": "#E69F00"}, "encoding": {"x": {"field": "w", "type": "quantitative", "stack": "center", "scale": {"domain": [-0.165, 5.035], "nice": false, "zero": false}, "axis": null}}},
{"data": {"name": "d_vio"}, "transform": [{"filter": "datum.c === 'MC'"}], "mark": {"type": "area", "orient": "horizontal", "interpolate": "monotone", "fill": "#56B4E9"}, "encoding": {"x": {"field": "w", "type": "quantitative", "stack": "center", "scale": {"domain": [-1.15, 4.05], "nice": false, "zero": false}, "axis": null}}},
{"data": {"name": "d_vio"}, "transform": [{"filter": "datum.c === 'AC'"}], "mark": {"type": "area", "orient": "horizontal", "interpolate": "monotone", "fill": "#009E73"}, "encoding": {"x": {"field": "w", "type": "quantitative", "stack": "center", "scale": {"domain": [-2.165, 3.035], "nice": false, "zero": false}, "axis": null}}},
{"data": {"name": "d_vio"}, "transform": [{"filter": "datum.c === 'MU'"}], "mark": {"type": "area", "orient": "horizontal", "interpolate": "monotone", "fill": "#D55E00"}, "encoding": {"x": {"field": "w", "type": "quantitative", "stack": "center", "scale": {"domain": [-3.165, 2.035], "nice": false, "zero": false}, "axis": null}}},
{"data": {"name": "d_vio"}, "transform": [{"filter": "datum.c === 'HY'"}], "mark": {"type": "area", "orient": "horizontal", "interpolate": "monotone", "fill": "#CC79A7"}, "encoding": {"x": {"field": "w", "type": "quantitative", "stack": "center", "scale": {"domain": [-4.155, 1.045], "nice": false, "zero": false}, "axis": null}}},
{"data": {"name": "d_pts"}, "mark": {"type": "point", "shape": "circle", "filled": false, "color": "#000000", "strokeWidth": 0.7, "opacity": 0.5, "size": 34},
 "encoding": {
  "x": {"field": "c", "type": "nominal", "scale": {"type": "band", "domain": ["FD","MC","AC","MU","HY"], "paddingInner": 0, "paddingOuter": 0.1},
    "axis": {"title": null, "labelExpr": "datum.value === 'FD' ? 'Full Data' : datum.value === 'MC' ? ['Missing','Cases'] : datum.value === 'AC' ? ['All','Cases'] : datum.value === 'MU' ? 'Multiplicative' : 'Hybrid'", "bandPosition": 0.5, "grid": true, "labelAngle": 0, "labelBaseline": "top", "labelLineHeight": 12.5, "labelLimit": 200}},
  "xOffset": {"field": "r", "type": "nominal", "scale": {"domain": [1,2,3,4,5,6,7], "paddingInner": 0, "paddingOuter": 1.9}}}}
],
"resolve": {"scale": {"x": "independent"}}
},
{
"width": 315, "height": 235,
"title": {"text": "(e)"},
"encoding": {"y": {"field": "v", "type": "quantitative", "scale": {"domain": [-2.04, 2.21], "nice": false, "zero": false},
  "axis": {"title": "log10 Range of Bias lnRR", "values": [-2,-1.5,-1,-0.5,0,0.5,1,1.5,2], "format": "d",
    "labelExpr": "datum.value % 1 === 0 ? datum.label : ''",
    "gridWidth": {"condition": {"test": "datum.value % 1 === 0", "value": 1}, "value": 0.5},
    "tickOpacity": {"condition": {"test": "datum.value % 1 === 0", "value": 1}, "value": 0}}}},
"layer": [
{"data": {"name": "e_vio"}, "mark": {"type": "point", "opacity": 0},
 "encoding": {"x": {"field": "s", "type": "quantitative", "scale": {"domain": [-2.23, 9.73], "nice": false, "zero": false},
   "axis": {"title": "\u03c3\u209b", "titleAnchor": "middle", "values": [0, 3.75, 7.5], "labelExpr": "'' + datum.value", "grid": true, "titleFontSize": 15, "titlePadding": 3}}}},
{"data": {"name": "e_vio"}, "transform": [{"filter": "datum.s === 0 && datum.n === '5'"}], "mark": {"type": "area", "orient": "horizontal", "interpolate": "monotone", "stroke": "#333333", "strokeWidth": 0.7},
 "encoding": {"x": {"field": "w", "type": "quantitative", "stack": "center", "impute": null, "scale": {"domain": [-0.586, 11.374], "nice": false, "zero": false}, "axis": null},
  "color": {"field": "n", "type": "nominal", "scale": {"domain": ["5","30"], "range": ["#000000","#F0E442"]}, "legend": {"title": "Study Sample Size", "orient": "none", "legendX": 3, "legendY": 18, "direction": "vertical", "symbolType": "square", "symbolSize": 196, "symbolStrokeColor": "#555555", "symbolStrokeWidth": 0.8, "symbolOpacity": 1, "fillColor": "#FFFFFF", "padding": 8, "titleFontSize": 12.3, "titleFontWeight": "normal", "titleColor": "#000000", "titleFont": "Liberation Sans", "labelFont": "Liberation Sans", "labelFontSize": 12.3, "labelColor": "#000000", "titlePadding": 6, "rowPadding": 1, "labelOffset": 6}}}},
{"data": {"name": "e_vio"}, "transform": [{"filter": "datum.s === 0 && datum.n === '30'"}], "mark": {"type": "area", "orient": "horizontal", "interpolate": "monotone", "stroke": "#333333", "strokeWidth": 0.7},
 "encoding": {"x": {"field": "w", "type": "quantitative", "stack": "center", "impute": null, "scale": {"domain": [-2.524, 9.436], "nice": false, "zero": false}, "axis": null},
  "color": {"field": "n", "type": "nominal", "scale": {"domain": ["5","30"], "range": ["#000000","#F0E442"]}, "legend": {"title": "Study Sample Size", "orient": "none", "legendX": 3, "legendY": 18, "direction": "vertical", "symbolType": "square", "symbolSize": 196, "symbolStrokeColor": "#555555", "symbolStrokeWidth": 0.8, "symbolOpacity": 1, "fillColor": "#FFFFFF", "padding": 8, "titleFontSize": 12.3, "titleFontWeight": "normal", "titleColor": "#000000", "titleFont": "Liberation Sans", "labelFont": "Liberation Sans", "labelFontSize": 12.3, "labelColor": "#000000", "titlePadding": 6, "rowPadding": 1, "labelOffset": 6}}}},
{"data": {"name": "e_vio"}, "transform": [{"filter": "datum.s === 3.75 && datum.n === '5'"}], "mark": {"type": "area", "orient": "horizontal", "interpolate": "monotone", "stroke": "#333333", "strokeWidth": 0.7},
 "encoding": {"x": {"field": "w", "type": "quantitative", "stack": "center", "impute": null, "scale": {"domain": [-4.296, 7.664], "nice": false, "zero": false}, "axis": null},
  "color": {"field": "n", "type": "nominal", "scale": {"domain": ["5","30"], "range": ["#000000","#F0E442"]}, "legend": {"title": "Study Sample Size", "orient": "none", "legendX": 3, "legendY": 18, "direction": "vertical", "symbolType": "square", "symbolSize": 196, "symbolStrokeColor": "#555555", "symbolStrokeWidth": 0.8, "symbolOpacity": 1, "fillColor": "#FFFFFF", "padding": 8, "titleFontSize": 12.3, "titleFontWeight": "normal", "titleColor": "#000000", "titleFont": "Liberation Sans", "labelFont": "Liberation Sans", "labelFontSize": 12.3, "labelColor": "#000000", "titlePadding": 6, "rowPadding": 1, "labelOffset": 6}}}},
{"data": {"name": "e_vio"}, "transform": [{"filter": "datum.s === 3.75 && datum.n === '30'"}], "mark": {"type": "area", "orient": "horizontal", "interpolate": "monotone", "stroke": "#333333", "strokeWidth": 0.7},
 "encoding": {"x": {"field": "w", "type": "quantitative", "stack": "center", "impute": null, "scale": {"domain": [-6.239, 5.721], "nice": false, "zero": false}, "axis": null},
  "color": {"field": "n", "type": "nominal", "scale": {"domain": ["5","30"], "range": ["#000000","#F0E442"]}, "legend": {"title": "Study Sample Size", "orient": "none", "legendX": 3, "legendY": 18, "direction": "vertical", "symbolType": "square", "symbolSize": 196, "symbolStrokeColor": "#555555", "symbolStrokeWidth": 0.8, "symbolOpacity": 1, "fillColor": "#FFFFFF", "padding": 8, "titleFontSize": 12.3, "titleFontWeight": "normal", "titleColor": "#000000", "titleFont": "Liberation Sans", "labelFont": "Liberation Sans", "labelFontSize": 12.3, "labelColor": "#000000", "titlePadding": 6, "rowPadding": 1, "labelOffset": 6}}}},
{"data": {"name": "e_vio"}, "transform": [{"filter": "datum.s === 7.5 && datum.n === '5'"}], "mark": {"type": "area", "orient": "horizontal", "interpolate": "monotone", "stroke": "#333333", "strokeWidth": 0.7},
 "encoding": {"x": {"field": "w", "type": "quantitative", "stack": "center", "impute": null, "scale": {"domain": [-8.111, 3.849], "nice": false, "zero": false}, "axis": null},
  "color": {"field": "n", "type": "nominal", "scale": {"domain": ["5","30"], "range": ["#000000","#F0E442"]}, "legend": {"title": "Study Sample Size", "orient": "none", "legendX": 3, "legendY": 18, "direction": "vertical", "symbolType": "square", "symbolSize": 196, "symbolStrokeColor": "#555555", "symbolStrokeWidth": 0.8, "symbolOpacity": 1, "fillColor": "#FFFFFF", "padding": 8, "titleFontSize": 12.3, "titleFontWeight": "normal", "titleColor": "#000000", "titleFont": "Liberation Sans", "labelFont": "Liberation Sans", "labelFontSize": 12.3, "labelColor": "#000000", "titlePadding": 6, "rowPadding": 1, "labelOffset": 6}}}},
{"data": {"name": "e_vio"}, "transform": [{"filter": "datum.s === 7.5 && datum.n === '30'"}], "mark": {"type": "area", "orient": "horizontal", "interpolate": "monotone", "stroke": "#333333", "strokeWidth": 0.7},
 "encoding": {"x": {"field": "w", "type": "quantitative", "stack": "center", "impute": null, "scale": {"domain": [-9.974, 1.986], "nice": false, "zero": false}, "axis": null},
  "color": {"field": "n", "type": "nominal", "scale": {"domain": ["5","30"], "range": ["#000000","#F0E442"]}, "legend": {"title": "Study Sample Size", "orient": "none", "legendX": 3, "legendY": 18, "direction": "vertical", "symbolType": "square", "symbolSize": 196, "symbolStrokeColor": "#555555", "symbolStrokeWidth": 0.8, "symbolOpacity": 1, "fillColor": "#FFFFFF", "padding": 8, "titleFontSize": 12.3, "titleFontWeight": "normal", "titleColor": "#000000", "titleFont": "Liberation Sans", "labelFont": "Liberation Sans", "labelFontSize": 12.3, "labelColor": "#000000", "titlePadding": 6, "rowPadding": 1, "labelOffset": 6}}}}
],
"resolve": {"scale": {"x": "independent"}}
}
]
}
],
"spacing": 3.5,
"config": {
"font": "Liberation Sans",
"view": {"stroke": "#333333", "strokeWidth": 0.8},
"axis": {"labelFont": "Liberation Sans", "labelFontSize": 12.3, "labelColor": "#4D4D4D", "titleFont": "Liberation Sans", "titleFontSize": 12.8, "titleFontWeight": "normal", "titleColor": "#000000", "tickColor": "#333333", "tickSize": 3.5, "tickWidth": 0.8, "domain": false, "gridColor": "#EBEBEB", "gridWidth": 1, "labelPadding": 1.5, "labelOverlap": false, "labelFlush": false, "titlePadding": 3},
"axisY": {"titlePadding": 1},
"title": {"anchor": "start", "frame": "group", "fontSize": 11.5, "fontWeight": "bold", "font": "Liberation Sans", "offset": 6, "baseline": "bottom", "color": "#000000"}
}
}
